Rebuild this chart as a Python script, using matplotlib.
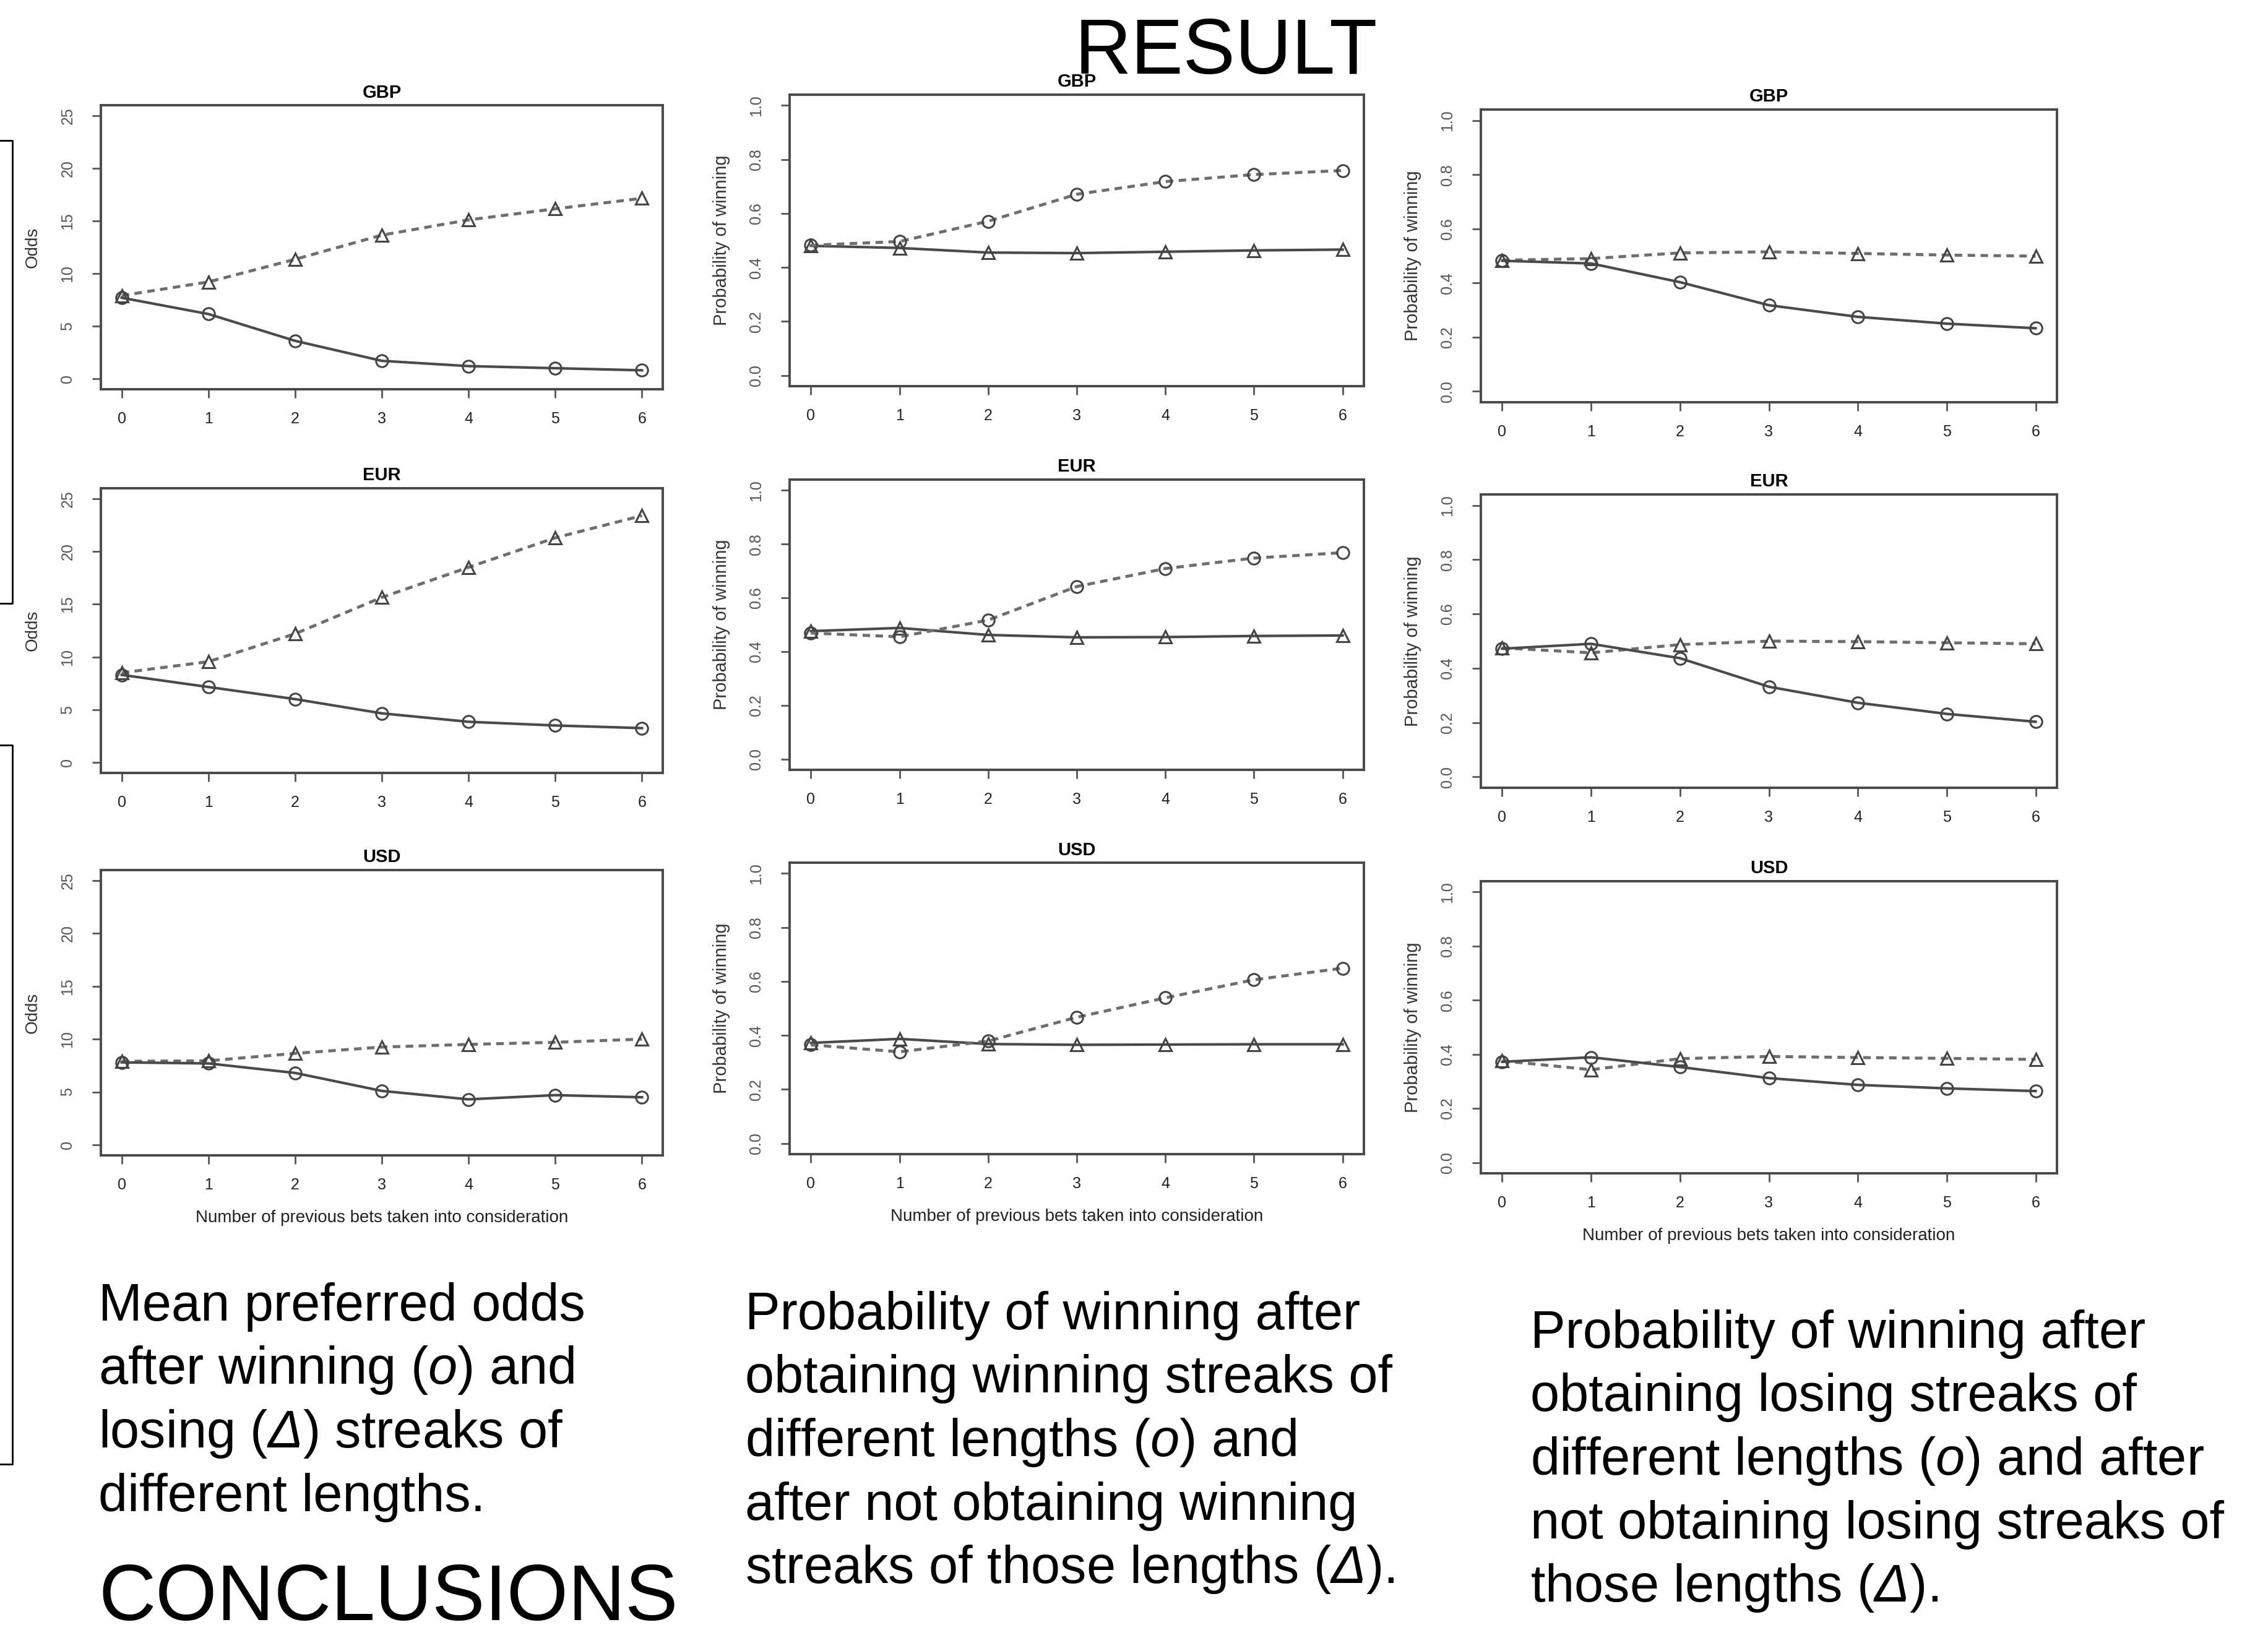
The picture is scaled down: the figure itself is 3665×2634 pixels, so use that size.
import matplotlib
matplotlib.use("Agg")
import matplotlib.pyplot as plt
from matplotlib.lines import Line2D

plt.rcParams['font.family'] = ['Liberation Sans', 'DejaVu Sans']
# el mathtext solo se usa para las partes en cursiva (o, Delta)
plt.rcParams['mathtext.fontset'] = 'custom'
plt.rcParams['mathtext.rm'] = 'Liberation Sans:italic'
plt.rcParams['mathtext.it'] = 'Liberation Sans:italic'

W, H = 3665, 2634

# datos
streak_len = [0, 1, 2, 3, 4, 5, 6]
currencies = ["GBP", "EUR", "USD"]

# columna 1: odds medias tras rachas ganadoras (o) y perdedoras (triangulo)
odds_win_gbp = [7.7, 6.15, 3.6, 1.7, 1.2, 1.0, 0.8]
odds_lose_gbp = [7.9, 9.2, 11.35, 13.65, 15.1, 16.15, 17.15]
odds_win_eur = [8.3, 7.15, 6.0, 4.65, 3.85, 3.5, 3.25]
odds_lose_eur = [8.5, 9.55, 12.2, 15.65, 18.5, 21.3, 23.4]
odds_win_usd = [7.8, 7.7, 6.8, 5.1, 4.3, 4.7, 4.5]
odds_lose_usd = [7.9, 7.95, 8.65, 9.25, 9.5, 9.7, 10.0]

# columna 2: prob. de ganar tras racha ganadora (o) / sin ella (triangulo)
pw_streak_gbp = [0.482, 0.496, 0.571, 0.671, 0.718, 0.744, 0.759]
pw_nostreak_gbp = [0.48, 0.472, 0.455, 0.453, 0.458, 0.463, 0.466]
pw_streak_eur = [0.469, 0.455, 0.517, 0.642, 0.709, 0.748, 0.768]
pw_nostreak_eur = [0.476, 0.488, 0.462, 0.453, 0.454, 0.458, 0.46]
pw_streak_usd = [0.365, 0.339, 0.379, 0.467, 0.539, 0.606, 0.649]
pw_nostreak_usd = [0.372, 0.387, 0.368, 0.365, 0.366, 0.367, 0.367]

# columna 3: prob. de ganar tras racha perdedora (o) / sin ella (triangulo)
pl_streak_gbp = [0.482, 0.472, 0.403, 0.318, 0.275, 0.25, 0.233]
pl_nostreak_gbp = [0.484, 0.49, 0.511, 0.515, 0.509, 0.503, 0.499]
pl_streak_eur = [0.472, 0.49, 0.437, 0.332, 0.273, 0.232, 0.203]
pl_nostreak_eur = [0.475, 0.457, 0.487, 0.5, 0.498, 0.494, 0.49]
pl_streak_usd = [0.372, 0.389, 0.353, 0.312, 0.287, 0.274, 0.264]
pl_nostreak_usd = [0.376, 0.343, 0.384, 0.392, 0.388, 0.385, 0.381]

odds_ticks = [0, 5, 10, 15, 20, 25]
prob_ticks = [0.0, 0.2, 0.4, 0.6, 0.8, 1.0]
prob_tick_labels = ["0.0", "0.2", "0.4", "0.6", "0.8", "1.0"]

# (circulos, triangulos) por panel
col1 = [(odds_win_gbp, odds_lose_gbp), (odds_win_eur, odds_lose_eur), (odds_win_usd, odds_lose_usd)]
col2 = [(pw_streak_gbp, pw_nostreak_gbp), (pw_streak_eur, pw_nostreak_eur), (pw_streak_usd, pw_nostreak_usd)]
col3 = [(pl_streak_gbp, pl_nostreak_gbp), (pl_streak_eur, pl_nostreak_eur), (pl_streak_usd, pl_nostreak_usd)]

# cajas de los ejes en pixeles (izq, arriba, der, abajo)
boxes = [
    [(163, 170, 1071, 629), (163, 789, 1071, 1249), (163, 1406, 1071, 1867)],
    [(1276, 153, 2204, 624), (1276, 775, 2204, 1244), (1276, 1394, 2204, 1865)],
    [(2393, 177, 3324, 650), (2393, 799, 3324, 1273), (2393, 1424, 3324, 1896)],
]

fig = plt.figure(figsize=(W / 100, H / 100), dpi=100)

SOLID = dict(color="#4a4a4a", linestyle="-", linewidth=3)
DASHED = dict(color="#6e6e6e", linestyle=(0, (2.5, 1.8)), linewidth=3.5)


def px_rect(l, t, r, b):
    return [l / W, 1 - b / H, (r - l) / W, (b - t) / H]


def draw_panel(ax, title, circ, tri, circ_dashed, odds, show_xlabel):
    circ_style = DASHED if circ_dashed else SOLID
    tri_style = SOLID if circ_dashed else DASHED
    ax.plot(streak_len, tri, marker="^", markersize=15, markerfacecolor="none",
            markeredgecolor="#444444", markeredgewidth=2.2, **tri_style)
    ax.plot(streak_len, circ, marker="o", markersize=14, markerfacecolor="none",
            markeredgecolor="#444444", markeredgewidth=2.2, **circ_style)

    ax.set_xlim(-0.24, 6.24)
    ax.set_xticks(streak_len)
    if odds:
        ax.set_ylim(-1, 26)
        ax.set_yticks(odds_ticks)
        ax.set_ylabel("Odds", fontsize=20, color="#333333", va="center")
    else:
        ax.set_ylim(-0.04, 1.04)
        ax.set_yticks(prob_ticks)
        ax.set_yticklabels(prob_tick_labels)
        ax.set_ylabel("Probability of winning", fontsize=21, color="#333333", va="center")
    h_px = ax.get_position().height * H
    w_px = ax.get_position().width * W
    ax.yaxis.set_label_coords(-110 / w_px, 0.5)

    ax.set_title(title, fontsize=21, fontweight="bold", pad=9)
    for s in ax.spines.values():
        s.set_linewidth(2.8)
        s.set_color("#4a4a4a")
    ax.tick_params(axis="both", direction="out", length=10, width=2, color="#555555")
    ax.tick_params(axis="x", labelsize=18, pad=16, labelcolor="#222222")
    ax.tick_params(axis="y", labelsize=18, pad=20, labelcolor="#555555", labelrotation=90)
    for lab in ax.get_yticklabels():
        lab.set_va("center")

    if show_xlabel:
        ax.set_xlabel("Number of previous bets taken into consideration", fontsize=20,
                      color="#222222", va="center")
        ax.xaxis.set_label_coords(0.5, -101 / h_px)


for ci, col in enumerate([col1, col2, col3]):
    for ri, (circ, tri) in enumerate(col):
        ax = fig.add_axes(px_rect(*boxes[ci][ri]))
        draw_panel(ax, currencies[ri], circ, tri, circ_dashed=(ci == 1), odds=(ci == 0),
                   show_xlabel=(ri == 2))


def ftext(x, y, s, **kw):
    fig.text(x / W, 1 - y / H, s, va="baseline", ha="left", **kw)


ftext(1737, 119, "RESULT", fontsize=91)
ftext(159, 2618, "CONCLUSIONS", fontsize=92)

block1 = ["Mean preferred odds",
          r"after winning ($o$) and",
          r"losing ($\Delta$) streaks of",
          "different lengths."]
block2 = ["Probability of winning after",
          "obtaining winning streaks of",
          r"different lengths ($o$) and",
          "after not obtaining winning",
          r"streaks of those lengths ($\Delta$)."]
block3 = ["Probability of winning after",
          "obtaining losing streaks of",
          r"different lengths ($o$) and after",
          "not obtaining losing streaks of",
          r"those lengths ($\Delta$)."]

for x0, y0, lines in [(159, 2134, block1), (1204, 2148, block2), (2473, 2178, block3)]:
    for k, line in enumerate(lines):
        ftext(x0, y0 + k * 102.5, line, fontsize=61)

# marcos recortados en el borde izquierdo
for top, bot in [(227, 975), (1204, 2366)]:
    fig.add_artist(Line2D([0, 20 / W, 20 / W, 0], [1 - top / H, 1 - top / H, 1 - bot / H, 1 - bot / H],
                          transform=fig.transFigure, color="black", linewidth=2))

fig.savefig("out.png", dpi=100)
